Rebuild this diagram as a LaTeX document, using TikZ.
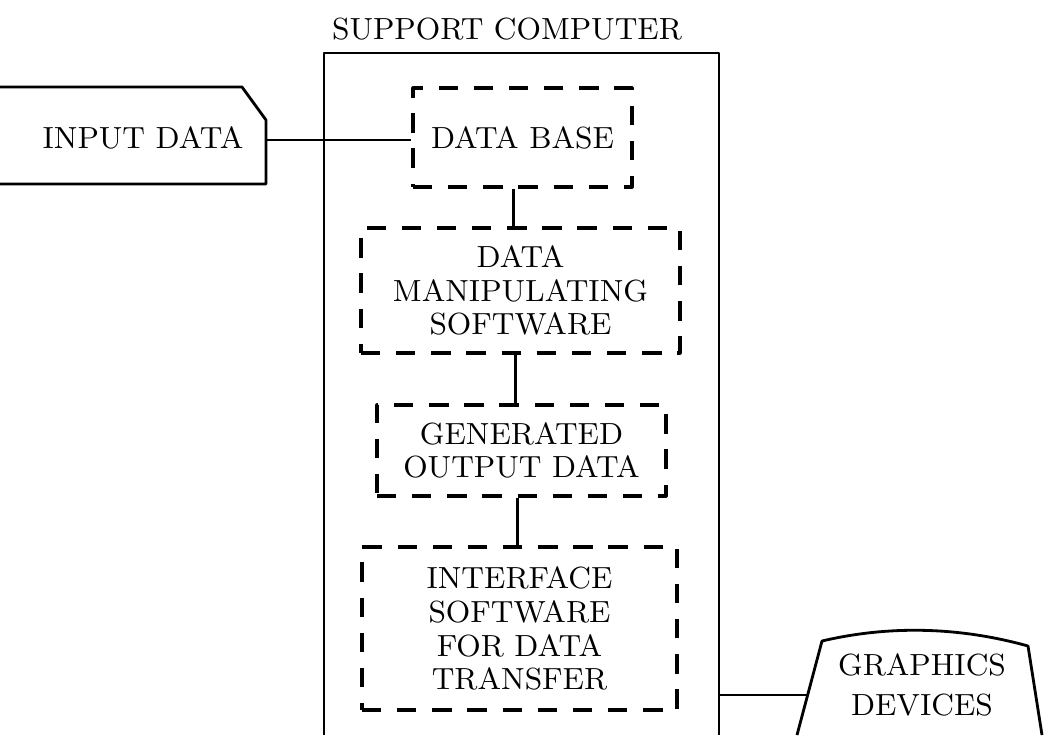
\documentclass[tikz,border=0pt]{standalone}
\usepackage{tikz}

\begin{document}
\begin{tikzpicture}[line join=round,
  dbox/.style={draw,line width=0.9pt,dash pattern=on 5.5pt off 4.5pt,align=center,inner sep=0pt,font=\fontsize{8.7}{9.6}\selectfont},
  lbl/.style={align=center,inner sep=0pt,font=\fontsize{8.7}{11.4}\selectfont}]
  \useasboundingbox (0,0) rectangle (10.48,-7.35);
  % support computer
  \draw[line width=0.7pt] (3.24,-7.35)--(3.24,-0.53)--(7.19,-0.53)--(7.19,-7.35);
  \node[lbl] (sc) at (5.07,-0.29) {SUPPORT COMPUTER};
  % input data (runs off the left edge)
  \draw[line width=0.8pt] (0,-0.87)--(2.42,-0.87)--(2.66,-1.20)--(2.66,-1.84)--(0,-1.84);
  \node[lbl] (inp) at (1.43,-1.38) {INPUT DATA};
  \coordinate (inpE) at (2.66,-1.40);
  % boxes inside
  \node[dbox,minimum width=2.19cm,minimum height=0.99cm] (db) at (5.225,-1.375) {DATA BASE};
  \node[dbox,minimum width=3.19cm,minimum height=1.25cm] (dms) at (5.205,-2.905) {DATA\\MANIPULATING\\SOFTWARE};
  \node[dbox,minimum width=2.89cm,minimum height=0.91cm] (god) at (5.215,-4.505) {GENERATED\\OUTPUT DATA};
  \node[dbox,minimum width=3.15cm,minimum height=1.63cm] (is) at (5.195,-6.285) {INTERFACE\\SOFTWARE\\FOR DATA\\TRANSFER};
  % graphics devices
  \draw[line width=0.8pt] (7.97,-7.35)--(8.22,-6.41) .. controls (8.9,-6.25) and (9.6,-6.27) .. (10.28,-6.46)--(10.42,-7.35);
  \node[lbl] (gd) at (9.22,-6.85) {GRAPHICS\\DEVICES};
  \coordinate (gdL) at (8.07,-6.95); \coordinate (scR) at (7.19,-6.95);
  % connections
  \draw[line width=0.7pt] (inpE) -- (inpE -| db.west);
  \draw[line width=0.7pt] ([xshift=-0.09cm]db.south) -- ([xshift=-0.09cm]db.south |- dms.north);
  \draw[line width=0.7pt] ([xshift=-0.05cm]dms.south) -- ([xshift=-0.05cm]dms.south |- god.north);
  \draw[line width=0.7pt] ([xshift=-0.04cm]god.south) -- ([xshift=-0.04cm]god.south |- is.north);
  \draw[line width=0.7pt] (scR) -- (gdL);
\end{tikzpicture}
\end{document}
